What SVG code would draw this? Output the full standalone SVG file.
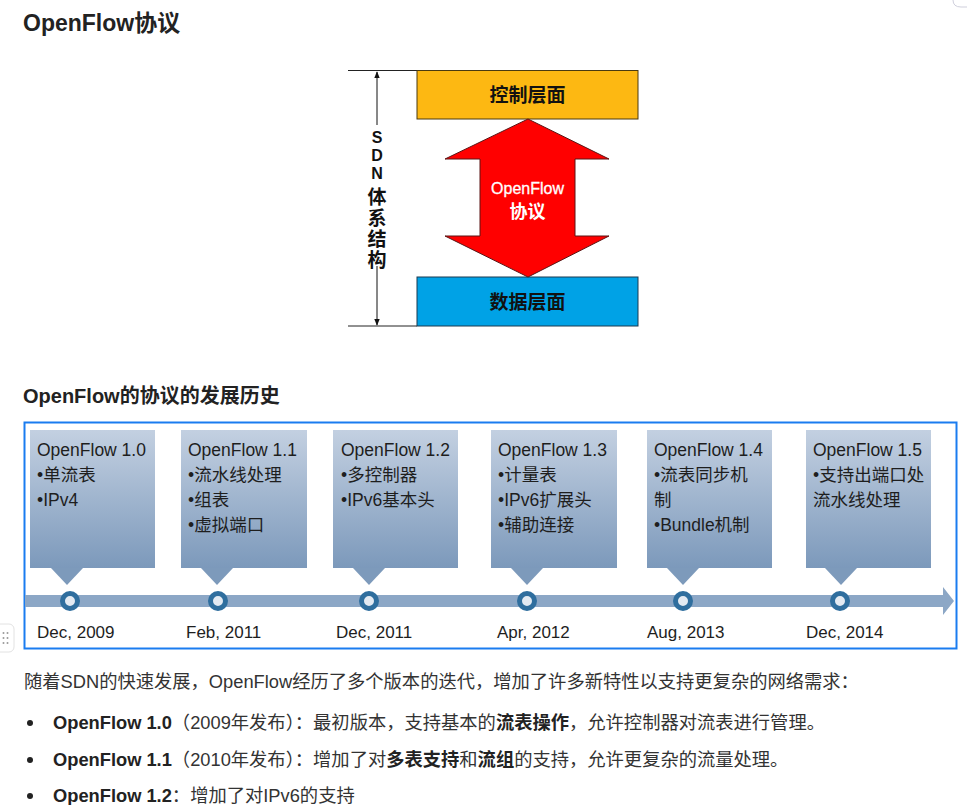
<svg xmlns="http://www.w3.org/2000/svg" width="967" height="805" viewBox="0 0 967 805">
<style>
.h{font-family:"Liberation Sans","Noto Sans CJK SC",sans-serif;font-weight:bold;fill:#222}
.b{font-family:"Liberation Sans","Noto Sans CJK SC",sans-serif;font-size:18.3px;fill:#333}
.bb{font-weight:bold;fill:#222}
.lbl{font-family:"Liberation Sans","Noto Sans CJK SC",sans-serif;font-weight:bold;fill:#111}
.tl{font-family:"Liberation Sans","Noto Sans CJK SC",sans-serif;font-size:17.5px;fill:#1e1e1e}
.dt{font-family:"Liberation Sans","Noto Sans CJK SC",sans-serif;font-size:17px;fill:#1e1e1e}
.box{fill:url(#g)}
.ptr{fill:#7d9abb}
.dot{fill:#e3eaf2;stroke:#2f6e9e;stroke-width:5}
</style>
<defs>
<linearGradient id="g" x1="0" y1="0" x2="0" y2="1">
<stop offset="0" stop-color="#c3d0e1"/>
<stop offset="1" stop-color="#7c99bb"/>
</linearGradient>
<marker id="ah" viewBox="0 0 10 10" refX="9" refY="5" markerWidth="7" markerHeight="7" orient="auto-start-reverse">
<path d="M0,1 L10,5 L0,9 Z" fill="#111"/>
</marker>
</defs>
<rect width="967" height="805" fill="#fff"/>
<path d="M953 0 Q953 7 961 7 H967" fill="none" stroke="#cfcfdc" stroke-width="1"/>
<text class="h" x="23" y="31" font-size="23">OpenFlow协议</text>

<g id="architecture">
<line x1="348" y1="70.5" x2="417" y2="70.5" stroke="#222" stroke-width="1"/>
<line x1="348" y1="326" x2="417" y2="326" stroke="#222" stroke-width="1"/>
<line x1="377" y1="125" x2="377" y2="72" stroke="#111" stroke-width="1" marker-end="url(#ah)"/>
<line x1="377" y1="266" x2="377" y2="325" stroke="#111" stroke-width="1" marker-end="url(#ah)"/>
<g class="lbl" text-anchor="middle">
<text x="377" y="143" font-size="16">S</text>
<text x="377" y="161" font-size="16">D</text>
<text x="377" y="179" font-size="16">N</text>
<text x="377" y="204" font-size="19">体</text>
<text x="377" y="225" font-size="19">系</text>
<text x="377" y="246" font-size="19">结</text>
<text x="377" y="267" font-size="19">构</text>
</g>
</g>

<g id="control-plane">
<rect x="417" y="70.5" width="221" height="48.5" fill="#fdb812" stroke="#4a3a10" stroke-width="1"/>
<text class="lbl" x="527.5" y="102" font-size="19" text-anchor="middle">控制层面</text>
</g>
<g id="data-plane">
<rect x="417" y="277" width="221" height="49" fill="#00a2e6" stroke="#1a3a50" stroke-width="1"/>
<text class="lbl" x="527.5" y="309" font-size="19" text-anchor="middle">数据层面</text>
</g>
<g id="openflow-arrow">
<path d="M528 119 L609 159 L575 159 L575 236 L609 236 L528 277 L445 236 L480 236 L480 159 L445 159 Z" fill="#ff0000" stroke="#5a1515" stroke-width="1"/>
<text x="527.5" y="194" font-family="Liberation Sans,sans-serif" font-size="16" fill="#fff" stroke="#fff" stroke-width="0.3" text-anchor="middle">OpenFlow</text>
<text x="527.5" y="218" font-family="Noto Sans CJK SC,sans-serif" font-weight="bold" font-size="18" fill="#fff" text-anchor="middle">协议</text>
</g>

<text class="h" x="23" y="403" font-size="20">OpenFlow的协议的发展历史</text>

<g id="timeline-frame">
<rect x="24.5" y="422.5" width="932" height="226" fill="#fff" stroke="#1a7cf0" stroke-width="2"/>
</g>
<g id="timeline-axis">
<path d="M25 595 H943 V587 L954 601 L943 615 V607 H25 Z" fill="#8ca7c6"/>
</g>

<g id="v10">
<rect class="box" x="30" y="430" width="125" height="138"/>
<path class="ptr" d="M51 568 L83 568 L67 585 Z"/>
<circle class="dot" cx="70" cy="601" r="7.5"/>
<text class="tl" x="37" y="456">OpenFlow 1.0</text>
<text class="tl" x="37" y="481">•单流表</text>
<text class="tl" x="37" y="506">•IPv4</text>
<text class="dt" x="37" y="638">Dec, 2009</text>
</g>
<g id="v11">
<rect class="box" x="181" y="430" width="126" height="138"/>
<path class="ptr" d="M201 568 L233 568 L217 585 Z"/>
<circle class="dot" cx="218" cy="601" r="7.5"/>
<text class="tl" x="188" y="456">OpenFlow 1.1</text>
<text class="tl" x="188" y="481">•流水线处理</text>
<text class="tl" x="188" y="506">•组表</text>
<text class="tl" x="188" y="531">•虚拟端口</text>
<text class="dt" x="186" y="638">Feb, 2011</text>
</g>
<g id="v12">
<rect class="box" x="333" y="430" width="125" height="138"/>
<path class="ptr" d="M353 568 L385 568 L369 585 Z"/>
<circle class="dot" cx="369" cy="601" r="7.5"/>
<text class="tl" x="341" y="456">OpenFlow 1.2</text>
<text class="tl" x="341" y="481">•多控制器</text>
<text class="tl" x="341" y="506">•IPv6基本头</text>
<text class="dt" x="336" y="638">Dec, 2011</text>
</g>
<g id="v13">
<rect class="box" x="491" y="430" width="126" height="138"/>
<path class="ptr" d="M511 568 L543 568 L527 585 Z"/>
<circle class="dot" cx="527" cy="601" r="7.5"/>
<text class="tl" x="498" y="456">OpenFlow 1.3</text>
<text class="tl" x="498" y="481">•计量表</text>
<text class="tl" x="498" y="506">•IPv6扩展头</text>
<text class="tl" x="498" y="531">•辅助连接</text>
<text class="dt" x="497" y="638">Apr, 2012</text>
</g>
<g id="v14">
<rect class="box" x="647" y="430" width="125" height="138"/>
<path class="ptr" d="M667 568 L699 568 L683 585 Z"/>
<circle class="dot" cx="683" cy="601" r="7.5"/>
<text class="tl" x="654" y="456">OpenFlow 1.4</text>
<text class="tl" x="654" y="481">•流表同步机</text>
<text class="tl" x="654" y="506">制</text>
<text class="tl" x="654" y="531">•Bundle机制</text>
<text class="dt" x="647" y="638">Aug, 2013</text>
</g>
<g id="v15">
<rect class="box" x="806" y="430" width="125" height="138"/>
<path class="ptr" d="M825 568 L857 568 L841 585 Z"/>
<circle class="dot" cx="840" cy="601" r="7.5"/>
<text class="tl" x="813" y="456">OpenFlow 1.5</text>
<text class="tl" x="813" y="481">•支持出端口处</text>
<text class="tl" x="813" y="506">流水线处理</text>
<text class="dt" x="806" y="638">Dec, 2014</text>
</g>

<g id="handle">
<rect x="-6" y="624" width="20" height="28" rx="5" fill="#fff" stroke="#e2e2e2"/>
<g fill="#9a9a9a">
<circle cx="3.5" cy="633" r="1"/><circle cx="7.5" cy="633" r="1"/>
<circle cx="3.5" cy="638" r="1"/><circle cx="7.5" cy="638" r="1"/>
<circle cx="3.5" cy="643" r="1"/><circle cx="7.5" cy="643" r="1"/>
</g>
</g>

<text class="b" x="24" y="688">随着SDN的快速发展，OpenFlow经历了多个版本的迭代，增加了许多新特性以支持更复杂的网络需求：</text>
<g fill="#222"><circle cx="30" cy="723" r="3"/><circle cx="30" cy="760" r="3"/><circle cx="30" cy="796" r="3"/></g>
<text class="b" x="53" y="729"><tspan class="bb">OpenFlow 1.0</tspan>（2009年发布）：最初版本，支持基本的<tspan class="bb">流表操作</tspan>，允许控制器对流表进行管理。</text>
<text class="b" x="53" y="766"><tspan class="bb">OpenFlow 1.1</tspan>（2010年发布）：增加了对<tspan class="bb">多表支持</tspan>和<tspan class="bb">流组</tspan>的支持，允许更复杂的流量处理。</text>
<text class="b" x="53" y="802"><tspan class="bb">OpenFlow 1.2</tspan>：增加了对IPv6的支持</text>
</svg>
